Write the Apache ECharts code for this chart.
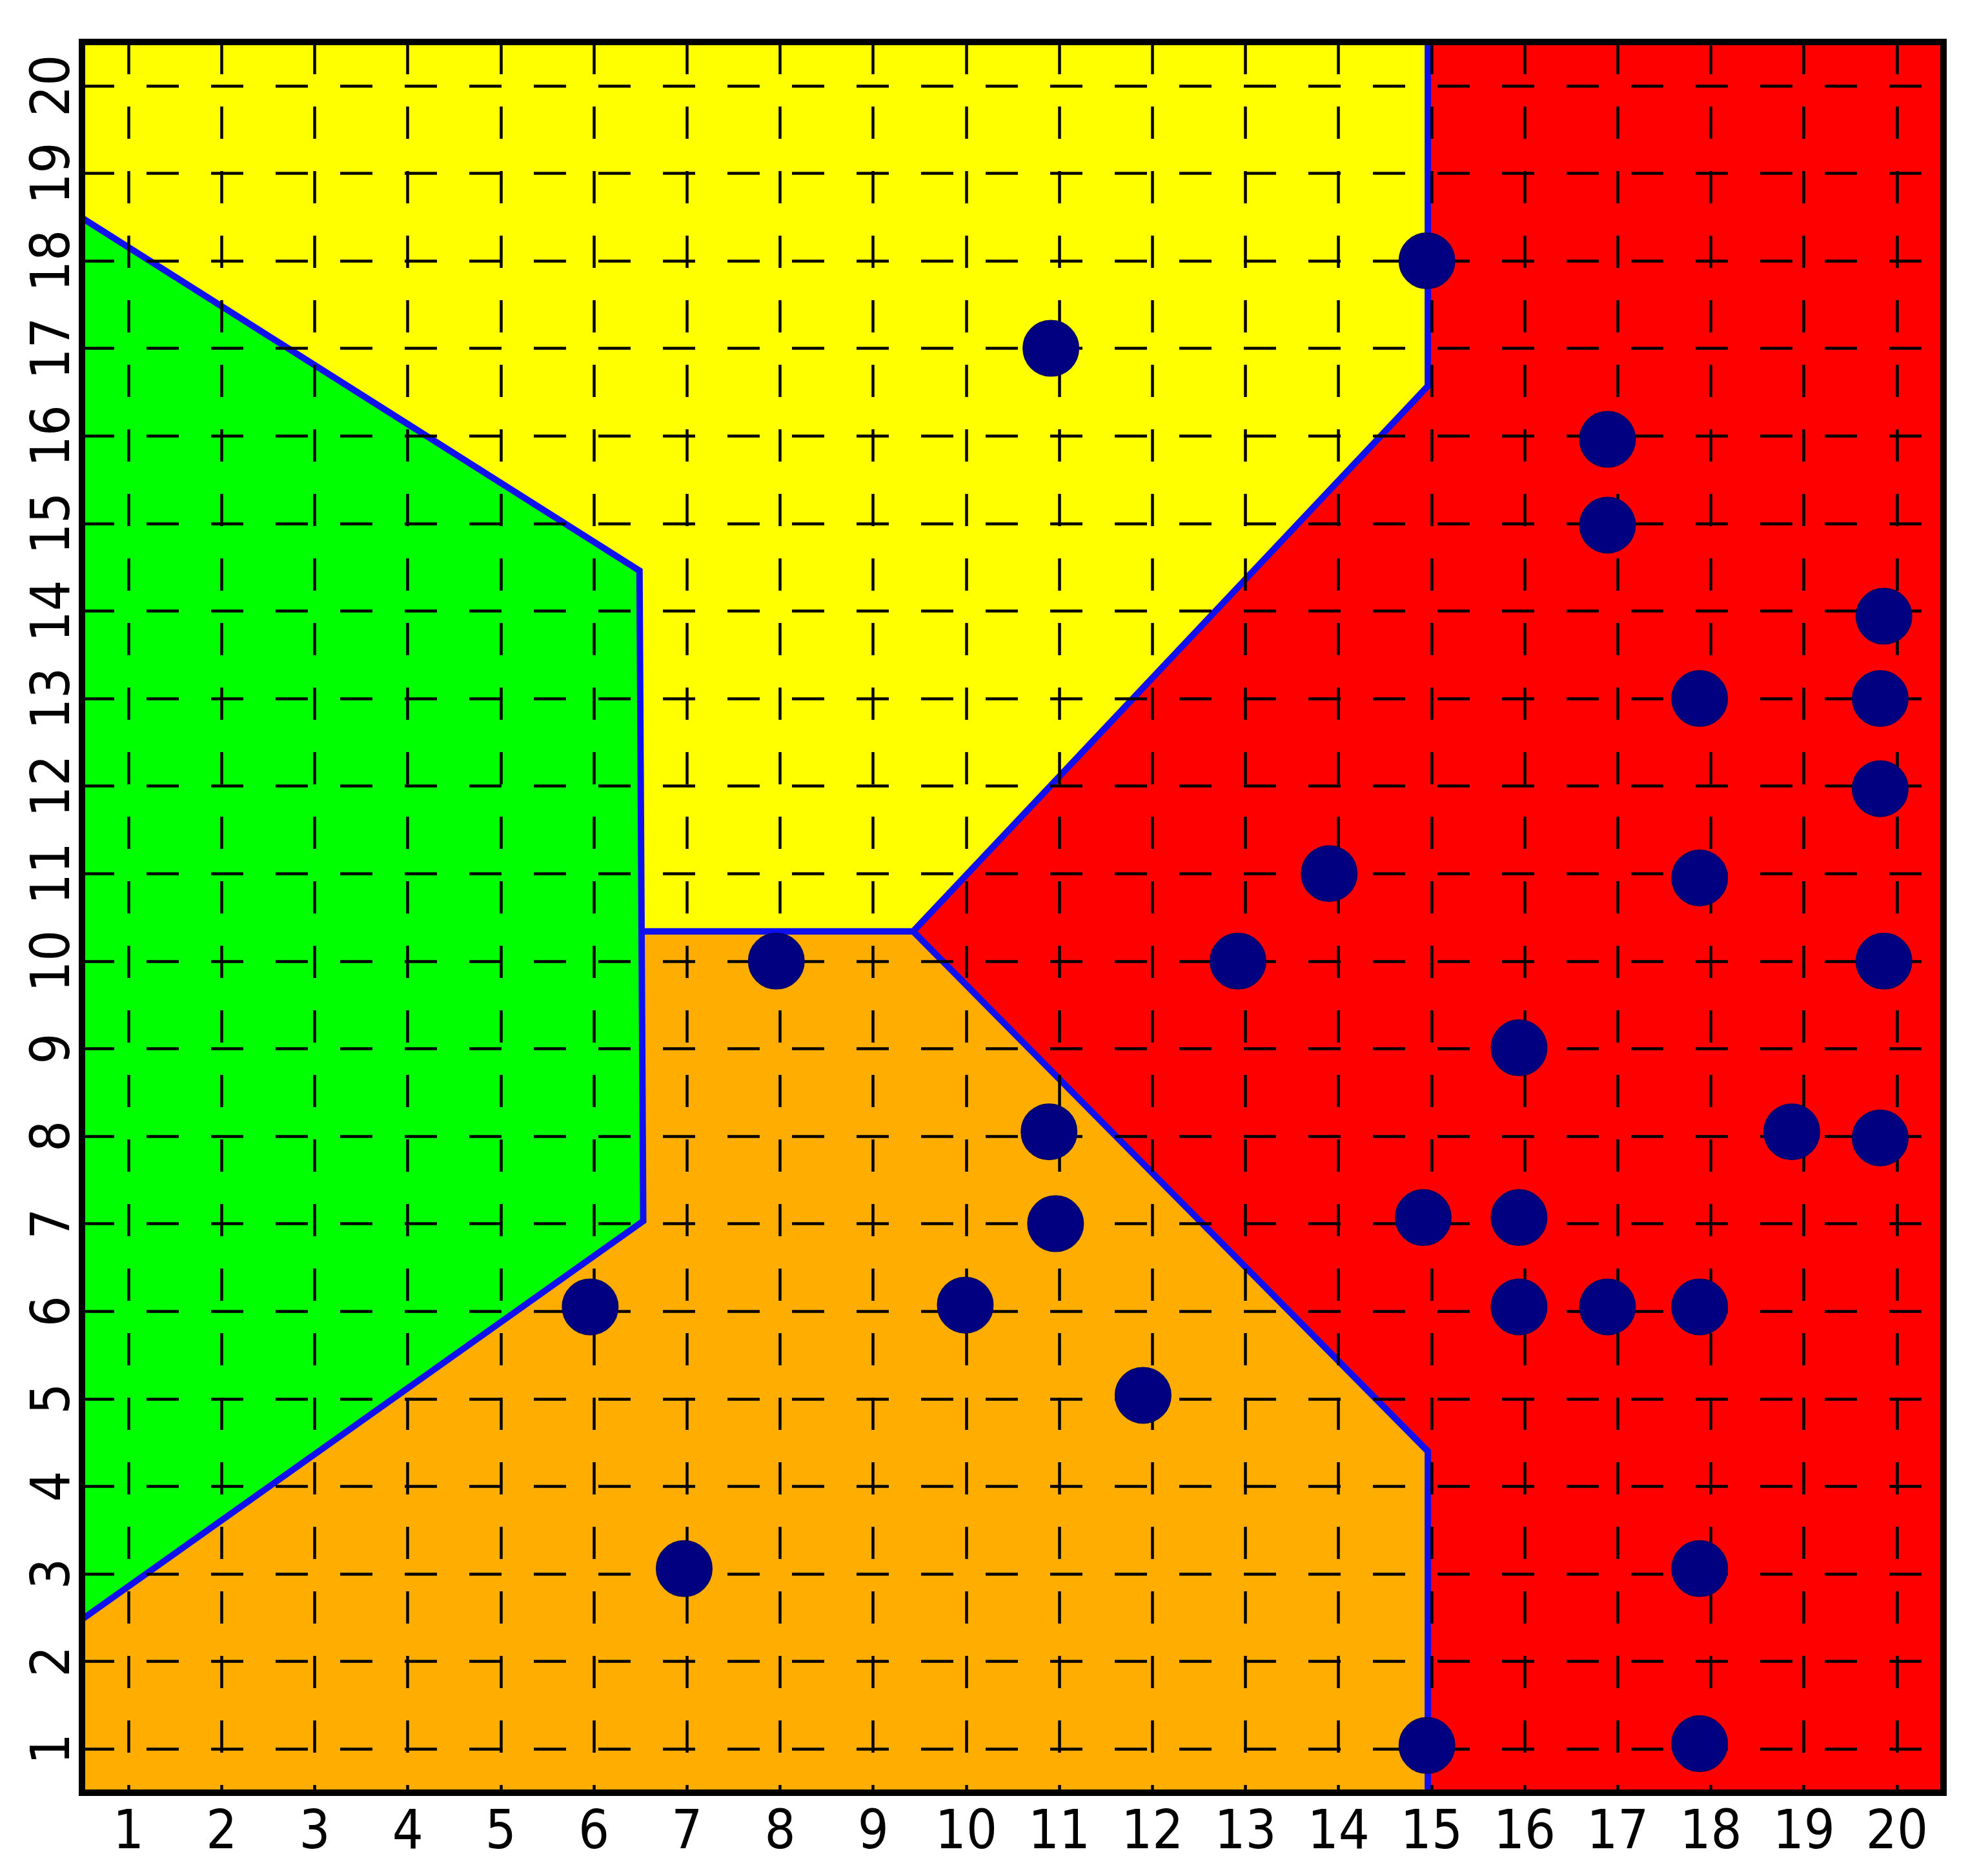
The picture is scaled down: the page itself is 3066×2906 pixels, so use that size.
<!DOCTYPE html>
<html>
<head>
<meta charset="utf-8">
<script src="https://cdn.jsdelivr.net/npm/echarts@6/dist/echarts.min.js"></script>
<style>
html,body{margin:0;padding:0;background:#fff;}
#chart{width:3066px;height:2906px;}
</style>
</head>
<body>
<div id="chart"></div>
<script>
// ---- data ----
const xTickValues = [1,2,3,4,5,6,7,8,9,10,11,12,13,14,15,16,17,18,19,20];
const yTickValues = [1,2,3,4,5,6,7,8,9,10,11,12,13,14,15,16,17,18,19,20];

const pointsX = [14.95,10.91,16.89,16.89,19.86,17.88,19.82,19.82,13.90,17.88,7.96,12.92,19.86,15.94,10.89,18.87,19.82,10.96,14.91,15.94,5.96,9.99,15.94,16.89,17.88,11.90,6.97,17.88,14.95,17.88];
const pointsY = [18.00,17.00,15.96,14.98,13.94,13.00,13.00,11.97,11.00,10.95,10.00,10.00,10.00,9.01,8.05,8.05,7.98,7.00,7.07,7.07,6.05,6.07,6.05,6.05,6.05,5.04,3.06,3.06,1.04,1.06];

const greenRegion  = [[0.5,18.49],[6.49,14.46],[6.53,7.03],[0.5,2.48]];
const yellowRegion = [[0.5,20.5],[14.96,20.5],[14.96,16.57],[9.43,10.34],[6.51,10.34],[6.49,14.46],[0.5,18.49]];
const orangeRegion = [[0.5,0.5],[14.96,0.5],[14.96,4.40],[9.43,10.34],[6.51,10.34],[6.53,7.03],[0.5,2.48]];
const redRegion    = [[14.96,20.5],[20.5,20.5],[20.5,0.5],[14.96,0.5],[14.96,4.40],[9.43,10.34],[14.96,16.57]];

const boundaryGreen  = [[0.5,18.49],[6.49,14.46],[6.53,7.03],[0.5,2.48]];
const boundaryMiddle = [[6.51,10.34],[9.43,10.34]];
const boundaryRed    = [[14.96,20.5],[14.96,16.57],[9.43,10.34],[14.96,4.40],[14.96,0.5]];

const regionColors = ['#00ff00','#ffff00','#ffad00','#ff0000'];

// ---- chart ----
const regions = [greenRegion, yellowRegion, orangeRegion, redRegion];
const boundaries = [boundaryGreen, boundaryMiddle, boundaryRed];
const scatterData = pointsX.map((x,i)=>[x, pointsY[i]]);

const labelFont = "'Liberation Sans Narrow','DejaVu Sans Condensed','Open Sans',sans-serif";

const chart = echarts.init(document.getElementById('chart'), null, {renderer:'canvas'});
const frameLine = {show:true, lineStyle:{color:'#000', width:10, cap:'square'}};

chart.setOption({
  backgroundColor:'#ffffff',
  animation:false,
  grid:{left:127, top:65, right:55, bottom:129, containLabel:false},
  xAxis:[
    {type:'value', min:0.5, max:20.5, z:3, position:'bottom',
     axisLine:frameLine,
     axisTick:{show:false, customValues:xTickValues},
     axisLabel:{customValues:xTickValues, fontSize:84, fontFamily:labelFont, color:'#000', margin:22},
     splitLine:{show:true, lineStyle:{color:'#000', width:4.5, type:[50,50]}}},
    {type:'value', min:0.5, max:20.5, z:3, position:'top',
     axisLine:frameLine, axisTick:{show:false}, axisLabel:{show:false}, splitLine:{show:false}}
  ],
  yAxis:[
    {type:'value', min:0.5, max:20.5, z:3, position:'left',
     axisLine:frameLine,
     axisTick:{show:false, customValues:yTickValues},
     axisLabel:{customValues:yTickValues, fontSize:84, fontFamily:labelFont, color:'#000', margin:0, rotate:90},
     splitLine:{show:true, lineStyle:{color:'#000', width:4.5, type:[50,50]}}},
    {type:'value', min:0.5, max:20.5, z:3, position:'right',
     axisLine:frameLine, axisTick:{show:false}, axisLabel:{show:false}, splitLine:{show:false}}
  ],
  series:[
    {type:'custom', z:1, silent:true,
     data: regions.map((r,i)=>i),
     renderItem:function(params, api){
       const idx = api.value(0);
       const pts = regions[idx].map(p=>api.coord(p));
       return {type:'polygon', shape:{points:pts}, style:{fill:regionColors[idx], stroke:null}};
     },
     encode:{x:-1, y:-1}
    },
    {type:'custom', z:2, silent:true,
     data: boundaries.map((b,i)=>i),
     renderItem:function(params, api){
       const idx = api.value(0);
       const pts = boundaries[idx].map(p=>api.coord(p));
       return {type:'polyline', shape:{points:pts}, style:{stroke:'#1010ee', lineWidth:10, fill:null, lineJoin:'miter'}};
     },
     encode:{x:-1, y:-1}
    },
    {type:'scatter', z:4, symbol:'circle', symbolSize:86,
     data:scatterData,
     itemStyle:{color:'#000080', borderColor:'#00006a', borderWidth:2, opacity:1}}
  ]
});
</script>
</body>
</html>
